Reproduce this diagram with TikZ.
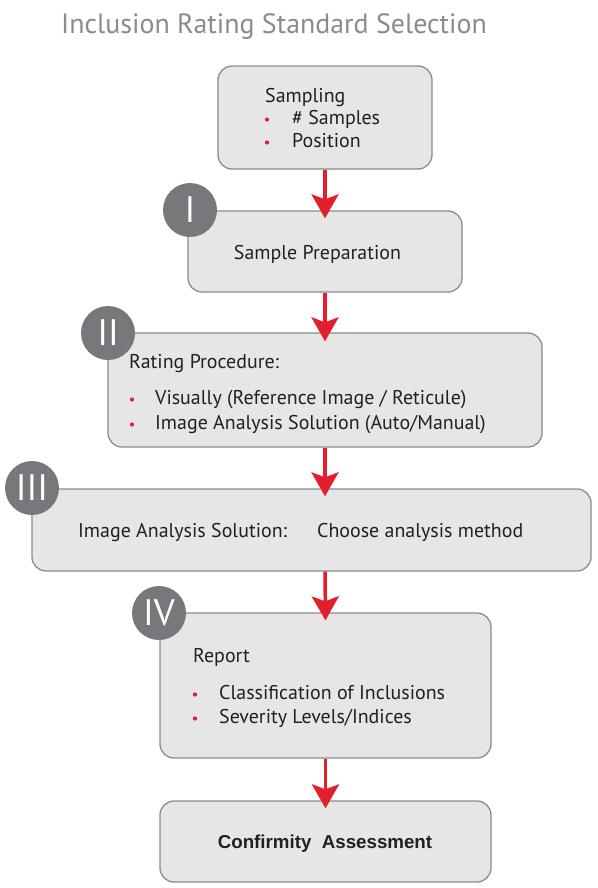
\documentclass[tikz,border=0pt]{standalone}
\usepackage{fontspec}
\setmainfont{PT Sans}
\newfontfamily\arialfont{Liberation Sans}
\usetikzlibrary{arrows.meta,calc}
\definecolor{boxfill}{HTML}{E6E6E7}
\definecolor{boxline}{HTML}{8C8C8E}
\definecolor{circfill}{HTML}{77787B}
\definecolor{arrred}{HTML}{E31E2D}
\definecolor{txt}{HTML}{231F20}
\definecolor{titlegray}{HTML}{8A8B8D}
\begin{document}
\begin{tikzpicture}[x=1bp,y=-1bp,
  box/.style={draw=boxline, line width=1.3bp, fill=boxfill, rounded corners=14bp, inner sep=0pt},
  numcirc/.style={circle, fill=circfill, minimum size=54bp, inner sep=0pt, text=white, font=\fontsize{37}{37}\selectfont},
  arr/.style={draw=arrred, line width=3.5bp, -{Stealth[length=24bp,width=27bp,inset=5bp]}},
  lbl/.style={anchor=base west, inner sep=0pt, text=txt, font=\fontsize{20}{20}\selectfont},
  clbl/.style={lbl, anchor=base},
  bul/.style={circle, fill=arrred, draw=none, inner sep=0pt, minimum size=4.2bp},
]
\useasboundingbox (0,0) rectangle (598,888);
\fill[white] (0,0) rectangle (598,888);

% title
\node[anchor=base west, inner sep=0pt, text=titlegray, font=\fontsize{28}{28}\selectfont] (title) at (61,33) {Inclusion Rating Standard Selection};

% boxes
\node[box, minimum width=214bp, minimum height=103bp] (b1) at (325,117.5) {};
\node[box, minimum width=274bp, minimum height=81bp] (b2) at (325,251.5) {};
\node[box, minimum width=434bp, minimum height=114bp] (b3) at (325,390) {};
\node[box, minimum width=559bp, minimum height=82bp] (b4) at (311.5,530) {};
\node[box, minimum width=331bp, minimum height=145bp] (b5) at (325.5,685.5) {};
\node[box, minimum width=331bp, minimum height=81bp] (b6) at (325.5,841.5) {};

% arrows
\draw[arr] (b1.south) -- ($(b2.north)+(0,8)$);
\draw[arr] (b2.south) -- ($(b3.north)+(0,9)$);
\draw[arr] (b3.south) -- ($(b3.south |- b4.north)+(0,8)$);
\draw[arr] (b3.south |- b4.south) -- ($(b5.north)+(0,8)$);
\draw[arr] (b5.south) -- ($(b6.north)+(0,8)$);

% numbered circles
\node[numcirc] (c1) at (190,210) {I};
\node[numcirc] (c2) at (108,333) {II};
\node[numcirc] (c3) at (32,488) {III};
\node[numcirc] (c4) at (159,613) {IV};

% box 1
\node[lbl] (t1) at (265,102) {Sampling};
\node[bul] (u11) at (267,119.5) {};
\node[lbl] (t11) at (292,124) {\# Samples};
\node[bul] (u12) at (267,142.5) {};
\node[lbl] (t12) at (292,147) {Position};

% box 2
\node[clbl] (t2) at (317.5,259) {Sample Preparation};

% box 3
\node[lbl] (t3) at (129,368) {Rating Procedure:};
\node[bul] (u31) at (132,399.5) {};
\node[lbl] (t31) at (155,404) {Visually (Reference Image / Reticule)};
\node[bul] (u32) at (132,424.5) {};
\node[lbl] (t32) at (155,429) {Image Analysis Solution (Auto/Manual)};

% box 4
\node[lbl] (t4) at (78,537) {Image Analysis Solution:};
\node[lbl] (t41) at (317,537) {Choose analysis method};

% box 5
\node[lbl] (t5) at (193,662) {Report};
\node[bul] (u51) at (195,694.5) {};
\node[lbl] (t51) at (219,699) {Classification of Inclusions};
\node[bul] (u52) at (195,718.5) {};
\node[lbl] (t52) at (219,723) {Severity Levels/Indices};

% box 6
\node[clbl, font=\arialfont\bfseries\fontsize{18.8}{18.8}\selectfont] (t6) at (325,848) {Confirmity\ \ Assessment};
\end{tikzpicture}
\end{document}
